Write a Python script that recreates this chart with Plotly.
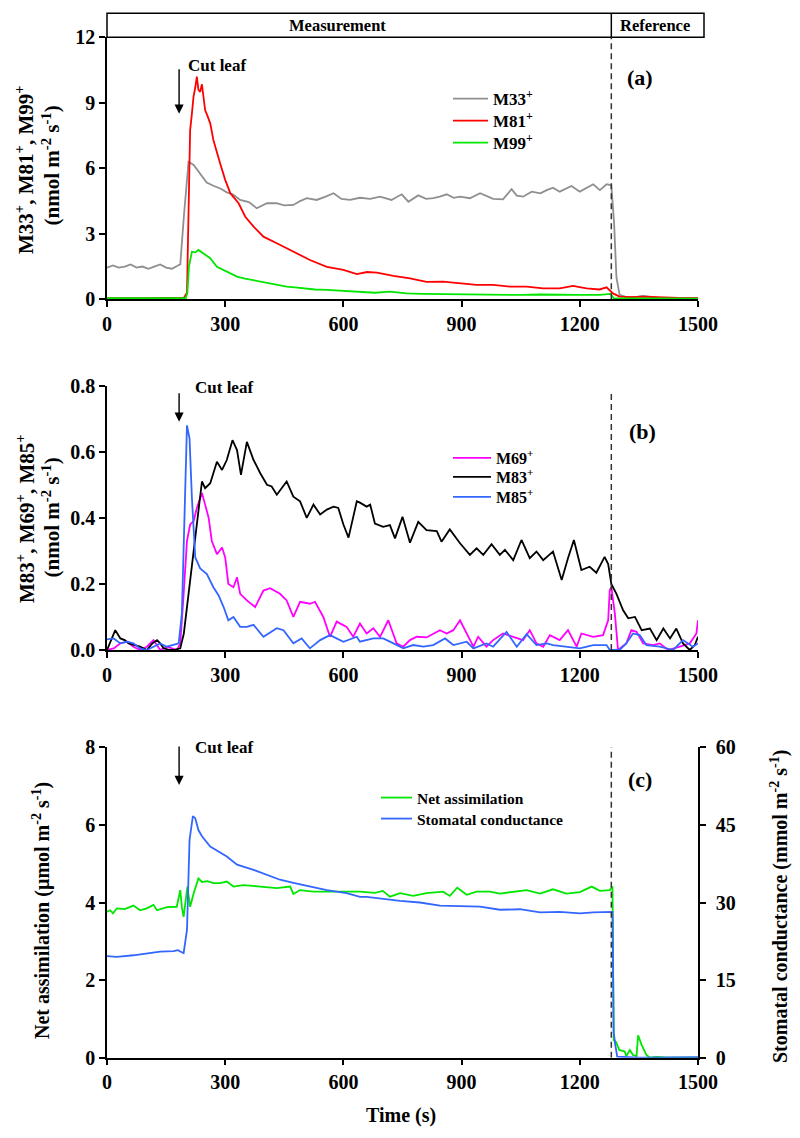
import plotly.graph_objects as go

# ---------------- data ----------------
# Panel (a): (time s, nmol m-2 s-1)
m33 = [(0, 1.45), (15, 1.55), (30, 1.45), (45, 1.5), (60, 1.6), (75, 1.45), (90, 1.5), (105, 1.4),
       (120, 1.5), (135, 1.6), (150, 1.45), (165, 1.4), (180, 1.55), (186, 1.6), (196, 4.0), (207, 6.3),
       (220, 6.15), (235, 5.8), (253, 5.35), (270, 5.2), (290, 5.05), (304, 4.9), (320, 4.8), (338, 4.55),
       (360, 4.45), (380, 4.17), (395, 4.3), (406, 4.4), (430, 4.4), (450, 4.3), (473, 4.32), (490, 4.5),
       (507, 4.63), (532, 4.55), (555, 4.7), (575, 4.86), (595, 4.6), (617, 4.55), (642, 4.65), (668, 4.6),
       (693, 4.7), (722, 4.55), (748, 4.81), (765, 4.47), (790, 4.76), (810, 4.6), (828, 4.63), (845, 4.7),
       (862, 4.81), (880, 4.65), (896, 4.7), (921, 4.63), (947, 4.86), (965, 4.7), (980, 4.6), (1005, 4.58),
       (1027, 5.04), (1040, 4.75), (1056, 4.7), (1078, 4.93), (1100, 4.85), (1116, 5.0), (1132, 5.11),
       (1149, 4.93), (1165, 5.05), (1179, 5.19), (1200, 4.93), (1218, 5.1), (1234, 5.27), (1251, 5.0),
       (1268, 5.27), (1280, 5.22), (1287, 3.5), (1293, 1.0), (1301, 0.2), (1315, 0.12), (1340, 0.1),
       (1360, 0.15), (1380, 0.1), (1400, 0.08), (1450, 0.06), (1500, 0.05)]
m81 = [(0, 0.05), (50, 0.04), (100, 0.05), (150, 0.06), (195, 0.06), (203, 0.3), (207, 4.0), (211, 7.75),
       (215.5, 8.5), (219.6, 9.28), (224, 9.7), (228, 10.2), (232, 9.6), (236.5, 9.5), (241, 9.85),
       (245, 9.3), (249, 8.67), (255, 8.4), (262, 8.06), (270, 7.3), (279, 6.7), (287, 6.23), (300, 5.47),
       (313, 4.86), (334, 4.4), (351, 3.78), (372, 3.33), (397, 2.87), (431, 2.57), (473, 2.18), (515, 1.8),
       (558, 1.49), (600, 1.35), (634, 1.15), (660, 1.25), (685, 1.22), (727, 1.07), (769, 0.96), (811, 0.8),
       (853, 0.81), (896, 0.73), (938, 0.66), (980, 0.66), (1023, 0.58), (1065, 0.58), (1107, 0.5),
       (1149, 0.5), (1183, 0.61), (1217, 0.5), (1250, 0.45), (1268, 0.55), (1284, 0.27), (1301, 0.12),
       (1330, 0.1), (1360, 0.12), (1400, 0.08), (1450, 0.06), (1500, 0.05)]
m99 = [(0, 0.05), (50, 0.06), (100, 0.05), (150, 0.06), (200, 0.06), (204, 0.3), (208, 1.5), (215.5, 2.18),
       (224, 2.15), (232, 2.26), (245, 2.1), (262, 1.88), (279, 1.49), (296, 1.34), (313, 1.2), (330, 1.04),
       (350, 0.95), (372, 0.88), (393, 0.8), (414, 0.73), (435, 0.65), (456, 0.58), (477, 0.55), (498, 0.5),
       (528, 0.45), (558, 0.43), (596, 0.4), (634, 0.35), (680, 0.3), (718, 0.35), (760, 0.27), (800, 0.25),
       (850, 0.24), (900, 0.22), (950, 0.23), (1000, 0.21), (1050, 0.2), (1100, 0.22), (1150, 0.2),
       (1200, 0.2), (1250, 0.2), (1278, 0.25), (1286, 0.05), (1300, 0.04), (1400, 0.04), (1500, 0.03)]

# Panel (b)
m69 = [(0, 0.0), (17, 0.005), (34, 0.02), (51, 0.025), (67, 0.01), (84, 0.0), (101, 0.01), (118, 0.03),
       (135, 0.0), (152, 0.01), (178, 0.0), (186, 0.02), (194, 0.16), (203, 0.33), (211, 0.38), (220, 0.39),
       (228, 0.43), (241, 0.475), (249, 0.44), (258, 0.40), (266, 0.33), (279, 0.29), (292, 0.31), (300, 0.28),
       (308, 0.20), (321, 0.19), (330, 0.22), (338, 0.17), (355, 0.15), (376, 0.13), (397, 0.18), (414, 0.187),
       (439, 0.17), (456, 0.15), (473, 0.10), (490, 0.146), (515, 0.14), (528, 0.146), (549, 0.10), (566, 0.04),
       (583, 0.086), (608, 0.07), (625, 0.04), (642, 0.08), (659, 0.05), (676, 0.066), (693, 0.04), (714, 0.09),
       (735, 0.02), (752, 0.01), (769, 0.03), (786, 0.04), (811, 0.038), (828, 0.05), (845, 0.06), (862, 0.05),
       (879, 0.06), (896, 0.09), (913, 0.05), (930, 0.01), (942, 0.04), (963, 0.01), (980, 0.03), (1005, 0.05),
       (1031, 0.04), (1056, 0.03), (1073, 0.06), (1090, 0.02), (1107, 0.01), (1124, 0.045), (1149, 0.03),
       (1170, 0.06), (1192, 0.01), (1204, 0.05), (1234, 0.04), (1259, 0.045), (1272, 0.09), (1276, 0.18),
       (1280, 0.19), (1289, 0.11), (1297, 0.0), (1318, 0.02), (1331, 0.06), (1344, 0.055), (1361, 0.02),
       (1386, 0.015), (1403, 0.02), (1424, 0.0), (1454, 0.01), (1479, 0.02), (1496, 0.05), (1500, 0.09)]
m83 = [(0, 0.0), (10, 0.03), (21, 0.06), (34, 0.035), (45, 0.03), (55, 0.02), (70, 0.015), (84, 0.01),
       (101, 0.0), (115, 0.02), (127, 0.03), (135, 0.02), (144, 0.005), (160, 0.0), (169, 0.0), (186, 0.005),
       (195, 0.05), (203, 0.13), (215.5, 0.27), (228, 0.39), (241, 0.51), (249, 0.49), (262, 0.505), (279, 0.57),
       (292, 0.545), (304, 0.575), (318.5, 0.635), (330, 0.605), (340, 0.53), (355, 0.63), (372, 0.575),
       (389, 0.535), (406, 0.50), (418, 0.495), (431, 0.47), (456, 0.51), (473, 0.464), (490, 0.45), (507, 0.40),
       (524, 0.44), (541, 0.41), (558, 0.425), (575, 0.434), (587, 0.43), (600, 0.38), (613, 0.34), (621, 0.38),
       (634, 0.45), (642, 0.446), (659, 0.434), (668, 0.44), (680, 0.383), (701, 0.373), (718, 0.378),
       (731, 0.338), (750, 0.403), (769, 0.325), (790, 0.388), (811, 0.363), (837, 0.36), (849, 0.328),
       (870, 0.365), (896, 0.323), (921, 0.288), (938, 0.308), (955, 0.288), (976, 0.32), (997, 0.288),
       (1010, 0.303), (1031, 0.272), (1052, 0.333), (1073, 0.278), (1090, 0.298), (1107, 0.272), (1132, 0.298),
       (1154, 0.212), (1170, 0.278), (1185, 0.333), (1204, 0.242), (1225, 0.252), (1242, 0.234), (1263, 0.282),
       (1272, 0.26), (1280, 0.20), (1293, 0.17), (1310, 0.12), (1323, 0.096), (1340, 0.10), (1357, 0.06),
       (1378, 0.065), (1395, 0.03), (1412, 0.065), (1429, 0.035), (1445, 0.065), (1462, 0.02), (1479, 0.0),
       (1492, 0.015), (1500, 0.04)]
m85 = [(0, 0.032), (17, 0.035), (34, 0.02), (51, 0.025), (67, 0.02), (84, 0.005), (101, 0.0), (118, 0.01),
       (135, 0.02), (152, 0.01), (169, 0.015), (182, 0.02), (190, 0.11), (196, 0.41), (203, 0.68),
       (209.5, 0.64), (215.5, 0.46), (224, 0.28), (236.5, 0.247), (253.5, 0.23), (270, 0.19), (283, 0.166),
       (296, 0.13), (308, 0.09), (321, 0.1), (338, 0.07), (355, 0.07), (372, 0.076), (397, 0.04), (431, 0.066),
       (448, 0.06), (473, 0.02), (494, 0.035), (515, 0.005), (541, 0.03), (566, 0.045), (600, 0.025),
       (634, 0.04), (642, 0.025), (676, 0.035), (701, 0.035), (727, 0.02), (752, 0.005), (777, 0.015),
       (803, 0.01), (828, 0.015), (858, 0.035), (879, 0.015), (913, 0.025), (930, 0.005), (963, 0.02),
       (980, 0.01), (1014, 0.055), (1040, 0.01), (1065, 0.048), (1090, 0.015), (1116, 0.02), (1132, 0.015),
       (1166, 0.01), (1200, 0.005), (1234, 0.015), (1268, 0.015), (1276, 0.0), (1301, 0.0), (1318, 0.02),
       (1335, 0.05), (1352, 0.045), (1369, 0.015), (1403, 0.01), (1437, 0.0), (1462, 0.03), (1487, 0.01),
       (1500, 0.02)]

# Panel (c): net assimilation (umol m-2 s-1, left axis)
net_assim = [(0, 3.76), (8, 3.8), (15, 3.72), (25, 3.85), (45, 3.83), (67, 3.92), (84, 3.8), (101, 3.85),
             (118, 3.94), (127, 3.8), (152, 3.88), (177, 3.89), (186, 4.32), (190, 3.88), (194.5, 3.63),
             (199, 4.06), (204, 4.41), (211, 3.89), (220, 4.24), (232, 4.62), (241, 4.53), (255, 4.55),
             (270, 4.5), (287, 4.5), (304, 4.54), (321, 4.41), (346, 4.45), (389, 4.41), (431, 4.37),
             (465, 4.41), (473, 4.22), (490, 4.32), (524, 4.28), (558, 4.28), (609, 4.28), (642, 4.28),
             (680, 4.25), (700, 4.3), (718, 4.15), (744, 4.24), (777, 4.17), (811, 4.24), (853, 4.28),
             (870, 4.17), (889, 4.38), (913, 4.2), (938, 4.28), (972, 4.28), (997, 4.23), (1031, 4.28),
             (1065, 4.32), (1099, 4.23), (1132, 4.34), (1166, 4.23), (1200, 4.27), (1230, 4.41), (1251, 4.3),
             (1276, 4.32), (1283, 4.41), (1286, 0.45), (1292, 0.41), (1300, 0.2), (1314, 0.16), (1318, 0.04),
             (1327, 0.2), (1335, 0.07), (1344, 0.04), (1348, 0.58), (1357, 0.33), (1369, 0.07), (1378, 0.0),
             (1395, 0.02), (1420, 0.0), (1500, 0.0)]
# stomatal conductance (mmol m-2 s-1, right axis)
stom_cond = [(0, 19.65), (25, 19.5), (67, 19.8), (101, 20.1), (135, 20.5), (169, 20.6), (180, 20.8),
             (194.5, 20.2), (203, 24.7), (209.5, 42.1), (218, 46.7), (224, 46.3), (232, 44.0), (241, 42.8),
             (262, 40.8), (304, 38.9), (330, 37.3), (372, 36.3), (406, 35.3), (439, 34.4), (473, 33.8),
             (515, 33.1), (558, 32.4), (608, 31.8), (642, 31.1), (659, 31.1), (744, 30.3), (794, 30.0),
             (845, 29.4), (896, 29.3), (947, 29.2), (997, 28.6), (1048, 28.7), (1099, 28.1), (1149, 28.2),
             (1200, 27.9), (1234, 28.1), (1283, 28.2), (1286, 5.0), (1290, 2.5), (1295, 0.2), (1350, 0.0),
             (1400, 0.0), (1450, 0.05), (1500, 0.1)]

x_ticks = [0, 300, 600, 900, 1200, 1500]
cut_time = 183
switch_time = 1280

# ---------------- figure ----------------
FONT = "Liberation Serif"
OFF = 8                      # page body margin
W, H = 800 - OFF, 1138 - OFF
L = 107 - OFF
R = W - (698 - OFF)


def split(pairs):
    return [p[0] for p in pairs], [p[1] for p in pairs]


def py(pix):
    return 1 - (pix - OFF) / H


def px(pix):
    return (pix - OFF - L) / (W - L - R)


fig = go.Figure()

bold = dict(family=FONT, color="black", weight="bold")

# (data, name, colour, xaxis, yaxis, legend x px, legend centre y px, font size, itemwidth)
series = [
    (m33, "M33<sup>+</sup>", "#8f8f8f", "x", "y", 448, 99, 17, 35),
    (m81, "M81<sup>+</sup>", "#ff0000", "x", "y", 448, 121, 17, 35),
    (m99, "M99<sup>+</sup>", "#00e600", "x", "y", 448, 143, 17, 35),
    (m69, "M69<sup>+</sup>", "#ff00ff", "x2", "y2", 448, 458, 16, 38),
    (m83, "M83<sup>+</sup>", "#000000", "x2", "y2", 448, 477, 16, 38),
    (m85, "M85<sup>+</sup>", "#3366ff", "x2", "y2", 448, 497, 16, 38),
    (net_assim, "Net assimilation", "#00e600", "x3", "y3", 376, 798, 15.5, 31),
    (stom_cond, "Stomatal conductance", "#3366ff", "x3", "y4", 376, 819, 15.5, 31),
]
legends = {}
for i, (data, name, color, xa, ya, lx, ly, fs, iw) in enumerate(series):
    t, v = split(data)
    lg = "legend" if i == 0 else f"legend{i + 1}"
    fig.add_trace(go.Scatter(x=t, y=v, mode="lines", name=name, xaxis=xa, yaxis=ya, legend=lg,
                             showlegend=True, line=dict(color=color, width=1.8)))
    legends[lg] = dict(x=px(lx), y=py(ly), xanchor="left", yanchor="middle", bgcolor="rgba(0,0,0,0)",
                       itemwidth=iw, font=dict(size=fs, **bold), visible=True)
fig.update_layout(showlegend=True, **legends)

tickf = dict(family=FONT, size=20, color="black", weight="bold")
axis_common = dict(showline=True, linecolor="black", linewidth=1.5, ticks="outside", ticklen=6,
                   tickwidth=1.5, tickcolor="black", showgrid=False, zeroline=False, tickfont=tickf)

xcommon = dict(range=[0, 1500], tickvals=x_ticks, **axis_common)
fig.update_layout(
    xaxis=dict(domain=[0, 1], anchor="y", **xcommon),
    xaxis2=dict(domain=[0, 1], anchor="y2", **xcommon),
    xaxis3=dict(domain=[0, 1], anchor="y3", **xcommon),
    yaxis=dict(domain=[py(299.3), py(37.3)], anchor="x", range=[0, 12], dtick=3, **axis_common),
    yaxis2=dict(domain=[py(650), py(385.7)], anchor="x2", range=[0, 0.8], dtick=0.2, tickformat=".1f",
                **axis_common),
    yaxis3=dict(domain=[py(1057.7), py(747.3)], anchor="x3", range=[0, 8], dtick=2, **axis_common),
    yaxis4=dict(overlaying="y3", anchor="x3", side="right", range=[0, 60], dtick=15,
                ticklabelstandoff=6, **axis_common),
)

dash = dict(color="#333333", width=1.5, dash="6px,4px")
shapes = [
    dict(type="rect", xref="paper", yref="paper", x0=0, x1=px(704), y0=py(37.3), y1=py(13.3),
         line=dict(color="black", width=1.5)),
    dict(type="line", xref="paper", yref="paper", x0=switch_time / 1500, x1=switch_time / 1500,
         y0=py(37.3), y1=py(13.3), line=dict(color="black", width=1.5)),
    dict(type="line", xref="x", yref="y", x0=switch_time, x1=switch_time, y0=0, y1=12, line=dash),
    dict(type="line", xref="x2", yref="y2", x0=switch_time, x1=switch_time, y0=0, y1=0.784, line=dash),
    dict(type="line", xref="x3", yref="y3", x0=switch_time, x1=switch_time, y0=0, y1=8, line=dash),
]
fig.update_layout(shapes=shapes)

ann = []
# header
ann.append(dict(text="Measurement", xref="paper", yref="paper", x=px(337), y=py(25.3), showarrow=False,
                xanchor="center", yanchor="middle", font=dict(size=16.5, **bold)))
ann.append(dict(text="Reference", xref="paper", yref="paper", x=px(654.5), y=py(25.3), showarrow=False,
                xanchor="center", yanchor="middle", font=dict(size=16.5, **bold)))
# cut leaf labels and arrows
for xa, ya, tx, ty, head, tail in [("x", "y", 200, 10.7, 8.5, 10.6),
                                   ("x2", "y2", 219, 0.795, 0.691, 0.782),
                                   ("x3", "y3", 219, 8.0, 7.03, 8.06)]:
    ann.append(dict(text="Cut leaf", xref=xa, yref=ya, x=tx, y=ty, showarrow=False, xanchor="left",
                    yanchor="middle", font=dict(size=17, **bold)))
    ann.append(dict(text="", xref=xa, yref=ya, x=cut_time, y=head, ax=cut_time, ay=tail, axref=xa,
                    ayref=ya, showarrow=True, arrowhead=2, arrowsize=1.3, arrowwidth=1.4,
                    arrowcolor="black", standoff=0, startstandoff=0))
# panel letters
for xa, ya, tx, ty, lab in [("x", "y", 1354, 10.17, "(a)"), ("x2", "y2", 1360, 0.661, "(b)"),
                            ("x3", "y3", 1354, 7.18, "(c)")]:
    ann.append(dict(text=lab, xref=xa, yref=ya, x=tx, y=ty, showarrow=False, xanchor="center",
                    yanchor="middle", font=dict(size=22, **bold)))
# axis titles (text, centre x px, centre y px, size)
titles = [
    ("M33<sup>+</sup>, M81<sup>+</sup>, M99<sup>+</sup>", 25, 170, 21),
    ("(nmol m<sup>-2</sup> s<sup>-1</sup>)", 50.5, 166, 21),
    ("M83<sup>+</sup>, M69<sup>+</sup>, M85<sup>+</sup>", 25, 519, 21),
    ("(nmol m<sup>-2</sup> s<sup>-1</sup>)", 50.5, 518, 21),
    ("Net assimilation (µmol m<sup>-2</sup> s<sup>-1</sup>)", 41, 911, 20),
    ("Stomatal conductance (mmol m<sup>-2</sup> s<sup>-1</sup>)", 779, 907, 20),
]
for text, cx, cy, fs in titles:
    ann.append(dict(text=text, xref="paper", yref="paper", x=px(cx), y=py(cy), showarrow=False,
                    xanchor="center", yanchor="middle", textangle=-90, font=dict(size=fs, **bold)))
ann.append(dict(text="Time (s)", xref="paper", yref="paper", x=px(401), y=py(1115), showarrow=False,
                xanchor="center", yanchor="middle", font=dict(size=20, **bold)))
fig.update_layout(annotations=ann)

fig.update_layout(width=W, height=H, margin=dict(l=L, r=R, t=0, b=0, autoexpand=False),
                  plot_bgcolor="white", paper_bgcolor="white", font=dict(family=FONT, color="black"))

fig.write_html("out.html")
